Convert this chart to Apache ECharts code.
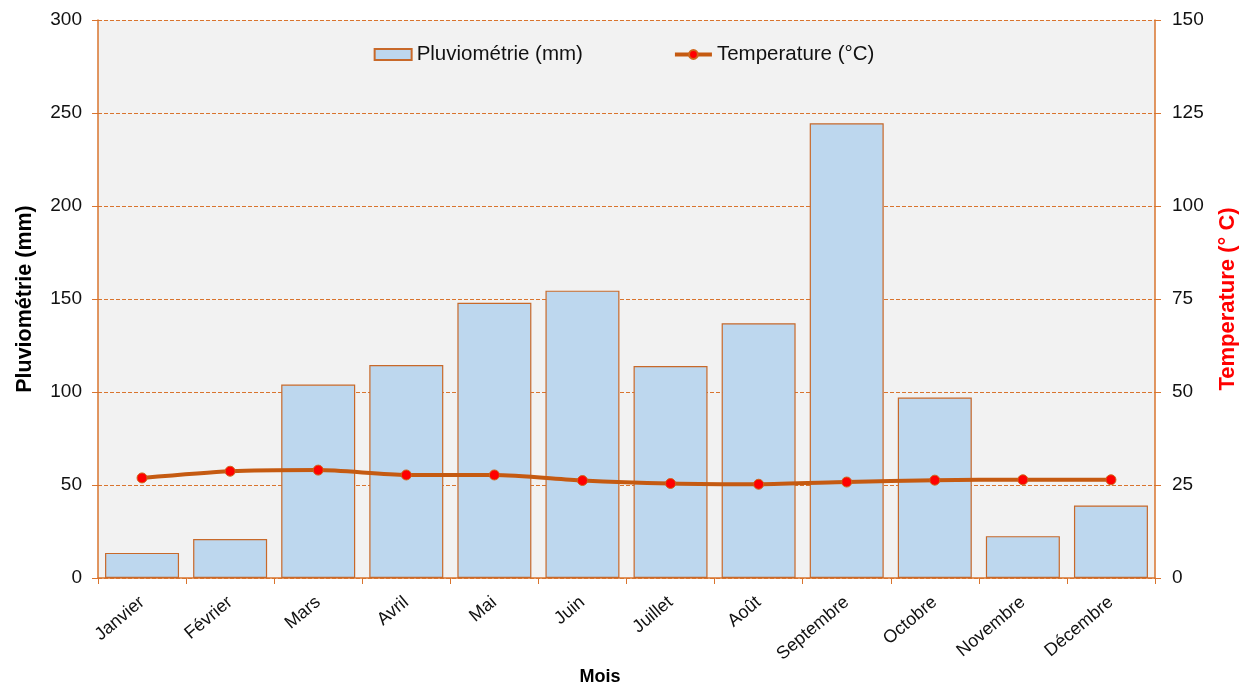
<!DOCTYPE html>
<html>
<head>
<meta charset="utf-8">
<script src="https://cdn.jsdelivr.net/npm/echarts@6/dist/echarts.min.js"></script>
<style>html,body{margin:0;padding:0;background:#fff;}#c{width:1248px;height:686px;}</style>
</head>
<body>
<div id="c"></div>
<script>
var months = ['Janvier','Février','Mars','Avril','Mai','Juin','Juillet','Août','Septembre','Octobre','Novembre','Décembre'];
var rainfall = [13.5, 21, 104, 114.5, 148, 154.5, 114, 137, 244.5, 97, 22.5, 39];
var temperature = [26.9, 28.7, 29.0, 27.7, 27.7, 26.2, 25.4, 25.2, 25.8, 26.3, 26.4, 26.4];
var leftTicks = [0, 300, 50];
var rightTicks = [0, 150, 25];

var orange = '#c55a11';
var axisOrange = '#d9742e';
var font = 'Liberation Sans, Arial, sans-serif';

var chart = echarts.init(document.getElementById('c'));
chart.setOption({
  animation: false,
  textStyle: {fontFamily: font},
  grid: {left: 98, right: 93, top: 20, bottom: 108, show: true, backgroundColor: '#f2f2f2', borderWidth: 0,
         containLabel: false, outerBoundsMode: 'none'},
  legend: {
    top: 39, left: 'center', itemGap: 90, itemWidth: 37, itemHeight: 11,
    textStyle: {fontSize: 20.5, color: '#111', fontFamily: font},
    data: [
      {name: 'Pluviométrie (mm)', icon: 'rect'},
      {name: 'Temperature (°C)', lineStyle: {width: 4, color: orange}}
    ]
  },
  xAxis: {
    type: 'category', data: months,
    axisLine: {lineStyle: {color: axisOrange, width: 1.5}},
    axisTick: {show: true, length: 6, lineStyle: {color: axisOrange}},
    axisLabel: {rotate: 40, fontSize: 18, color: '#111', margin: 22, fontFamily: font}
  },
  yAxis: [
    {
      type: 'value', min: leftTicks[0], max: leftTicks[1], interval: leftTicks[2],
      name: 'Pluviométrie (mm)', nameLocation: 'middle', nameGap: 62, nameRotate: 90,
      nameTextStyle: {fontSize: 21.5, fontWeight: 'bold', color: '#000', fontFamily: font},
      axisLine: {show: true, lineStyle: {color: axisOrange, width: 1.5}},
      axisTick: {show: true, length: 6, lineStyle: {color: axisOrange}},
      axisLabel: {fontSize: 19, color: '#111', margin: 16, fontFamily: font},
      splitLine: {show: true, lineStyle: {color: axisOrange, type: [4, 2], width: 1}}
    },
    {
      type: 'value', min: rightTicks[0], max: rightTicks[1], interval: rightTicks[2], position: 'right',
      name: 'Temperature (° C)', nameLocation: 'middle', nameGap: 62, nameRotate: 90,
      nameTextStyle: {fontSize: 22, fontWeight: 'bold', color: '#ff0000', fontFamily: font},
      axisLine: {show: true, lineStyle: {color: axisOrange, width: 1.5}},
      axisTick: {show: true, length: 6, lineStyle: {color: axisOrange}},
      axisLabel: {fontSize: 19, color: '#111', margin: 17, fontFamily: font},
      splitLine: {show: false}
    }
  ],
  graphic: [{
    type: 'text', x: 600, y: 677,
    style: {text: 'Mois', fontSize: 18, fontWeight: 'bold', fill: '#000', fontFamily: font, align: 'center', verticalAlign: 'middle'}
  }],
  series: [
    {
      name: 'Pluviométrie (mm)', type: 'bar', yAxisIndex: 0, data: rainfall,
      barCategoryGap: '16%',
      itemStyle: {color: '#bdd7ee', borderColor: '#c8692a', borderWidth: 1.2}
    },
    {
      name: 'Temperature (°C)', type: 'line', yAxisIndex: 1, data: temperature,
      smooth: 0.25, symbol: 'circle', symbolSize: 10,
      lineStyle: {color: orange, width: 4},
      itemStyle: {color: '#ff0000', borderColor: '#d0681c', borderWidth: 1}
    }
  ]
});
</script>
</body>
</html>
